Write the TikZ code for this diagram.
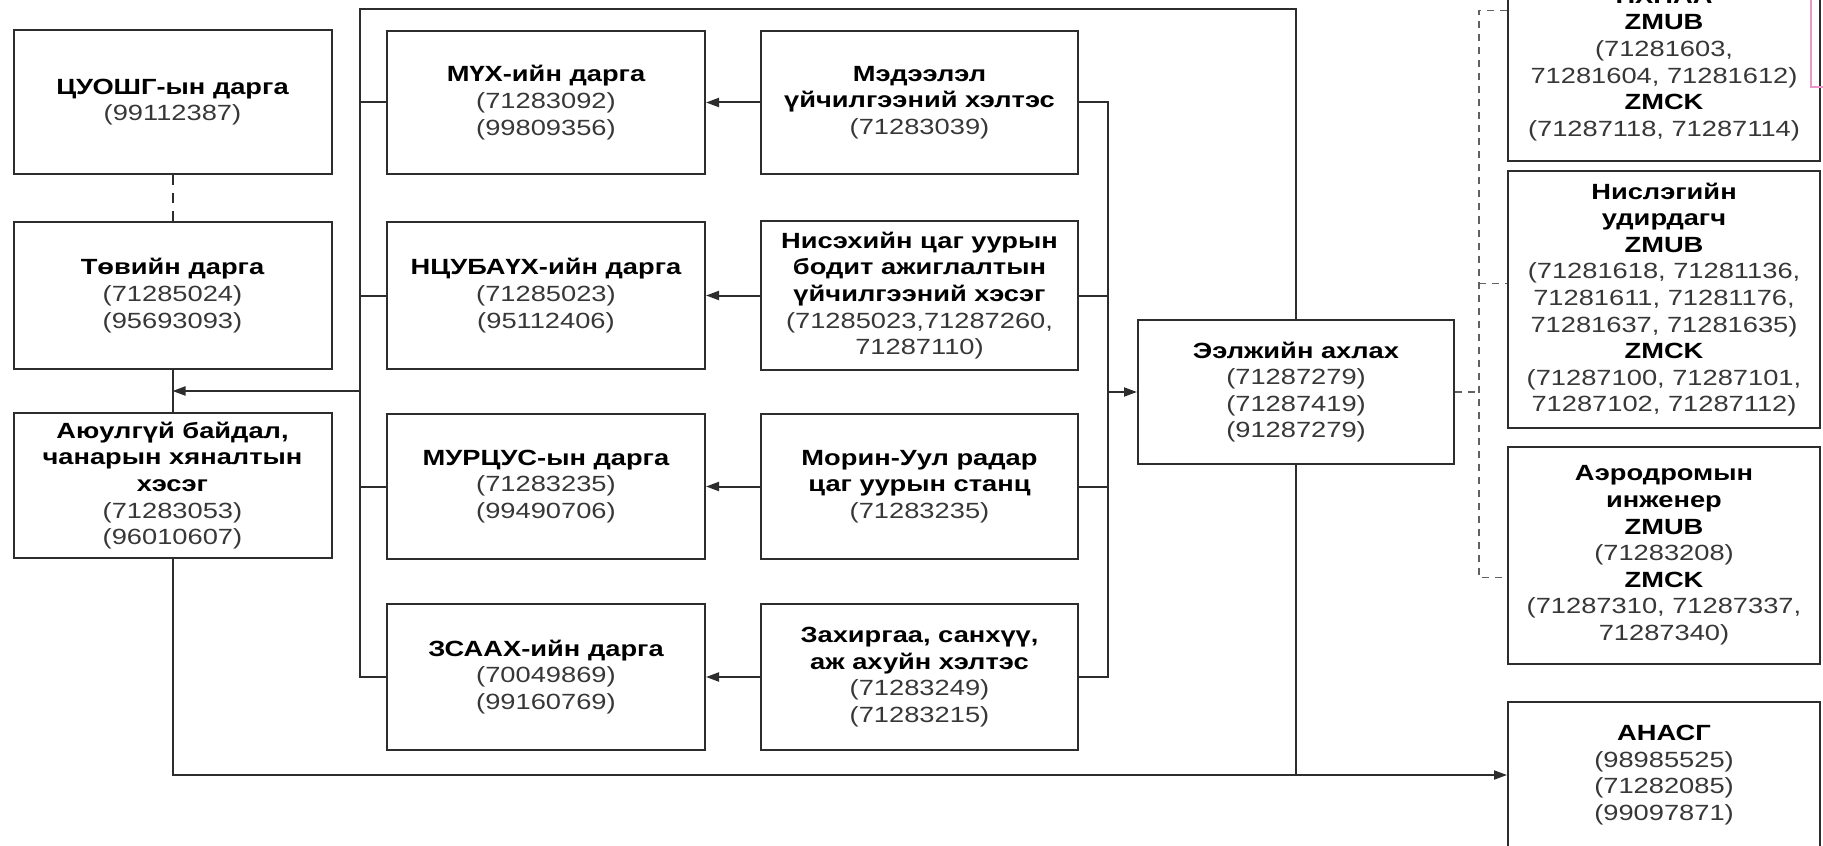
\documentclass[tikz,border=0pt]{standalone}
\usepackage{fontspec}
\setmainfont{Liberation Sans}[FakeStretch=1.24]
\usetikzlibrary{arrows.meta,calc}
\definecolor{ink}{RGB}{45,45,45}
\definecolor{numc}{RGB}{55,55,55}
\definecolor{pinkmark}{RGB}{235,150,200}
\newcommand{\hd}[1]{\textbf{\color{black}#1}}
\begin{document}
\begin{tikzpicture}[x=0.5pt,y=-0.5pt,
  box/.style={draw=ink,line width=1pt,inner sep=0pt,align=center,text=numc,
    font=\fontsize{11}{13.3}\selectfont},
  ln/.style={draw=ink,line width=1pt},
  arr/.style={ln,-{Triangle[length=6.5pt,width=4.5pt]}},
  dshL/.style={ln,dash pattern=on 5pt off 4pt},
  dshR/.style={draw=ink!75,line width=0.8pt,dash pattern=on 3.5pt off 3pt}]
\useasboundingbox (0,0) rectangle (1823,845);
\clip (0,0) rectangle (1823,845);
% left column
\node[box,minimum width=159pt,minimum height=72pt] (cuosh) at (172.5,102) {\hd{ЦУОШГ-ын дарга}\\(99112387)};
\node[box,minimum width=159pt,minimum height=73.5pt] (tov) at (172.5,295.5) {\hd{Төвийн дарга}\\(71285024)\\(95693093)};
\node[box,minimum width=159pt,minimum height=72.5pt] (ayul) at (172.5,485.5) {\hd{Аюулгүй байдал,}\\\hd{чанарын хяналтын}\\\hd{хэсэг}\\(71283053)\\(96010607)};
% middle left
\node[box,minimum width=159pt,minimum height=71.5pt] (myx) at (546,102.5) {\hd{МҮХ-ийн дарга}\\(71283092)\\(99809356)};
\node[box,minimum width=159pt,minimum height=73.5pt] (ncub) at (546,295.5) {\hd{НЦУБАҮХ-ийн дарга}\\(71285023)\\(95112406)};
\node[box,minimum width=159pt,minimum height=72.5pt] (murts) at (546,486.5) {\hd{МУРЦУС-ын дарга}\\(71283235)\\(99490706)};
\node[box,minimum width=159pt,minimum height=73pt] (zsaah) at (546,677) {\hd{ЗСААХ-ийн дарга}\\(70049869)\\(99160769)};
% middle right
\node[box,minimum width=158.5pt,minimum height=71.5pt] (med) at (919.5,102.5) {\hd{Мэдээлэл}\\\hd{үйчилгээний хэлтэс}\\(71283039)};
\node[box,minimum width=158.5pt,minimum height=74pt] (nis) at (919.5,295.5) {\hd{Нисэхийн цаг уурын}\\\hd{бодит ажиглалтын}\\\hd{үйчилгээний хэсэг}\\(71285023,71287260,\\71287110)};
\node[box,minimum width=158.5pt,minimum height=72.5pt] (morin) at (919.5,486.5) {\hd{Морин-Уул радар}\\\hd{цаг уурын станц}\\(71283235)};
\node[box,minimum width=158.5pt,minimum height=73pt] (zah) at (919.5,677) {\hd{Захиргаа, санхүү,}\\\hd{аж ахуйн хэлтэс}\\(71283249)\\(71283215)};
% shift head
\node[box,minimum width=158pt,minimum height=72pt] (ezl) at (1296,392) {\hd{Ээлжийн ахлах}\\(71287279)\\(71287419)\\(91287279)};
% right column
\node[box,minimum width=156pt,minimum height=96.5pt] (hnaa) at (1664,64.5) {\hd{НХНАА}\\\hd{ZMUB}\\(71281603,\\71281604, 71281612)\\\hd{ZMCK}\\(71287118, 71287114)};
\node[box,minimum width=156pt,minimum height=128.5pt] (nisl) at (1664,299.5) {\hd{Нислэгийн}\\\hd{удирдагч}\\\hd{ZMUB}\\(71281618, 71281136,\\71281611, 71281176,\\71281637, 71281635)\\\hd{ZMCK}\\(71287100, 71287101,\\71287102, 71287112)};
\node[box,minimum width=156pt,minimum height=108.5pt] (aero) at (1664,555.5) {\hd{Аэродромын}\\\hd{инженер}\\\hd{ZMUB}\\(71283208)\\\hd{ZMCK}\\(71287310, 71287337,\\71287340)};
\node[box,minimum width=156pt,minimum height=73pt] (anasg) at (1664,775) {\hd{АНАСГ}\\(98985525)\\(71282085)\\(99097871)};
% coordinates
\coordinate (busTL) at (360,9);
\coordinate (busR) at (1108,0);
\coordinate (dv) at (1479,10);
% left bus and top line
\draw[ln] (ezl.north) |- (busTL) |- (zsaah.west);
\draw[ln] (myx.west) -- (myx.west -| busTL);
\draw[ln] (ncub.west) -- (ncub.west -| busTL);
\draw[ln] (murts.west) -- (murts.west -| busTL);
% left column links
\draw[dshL] (cuosh.south) -- (tov.north);
\draw[ln] (tov.south) -- (ayul.north);
\coordinate (tj) at ($(tov.south)!0.5!(ayul.north)$);
\draw[arr] (tj -| busTL) -- (tj);
% bottom line
\draw[arr] (ayul.south) |- (anasg.west);
\draw[ln] (ezl.south) -- (ezl.south |- anasg.west);
% right bus of the middle
\draw[ln] (med.east) -| (zah.east -| busR) -- (zah.east);
\draw[ln] (nis.east) -- (nis.east -| busR);
\draw[ln] (morin.east) -- (morin.east -| busR);
\draw[arr] (ezl.west -| busR) -- (ezl.west);
% row arrows
\draw[arr] (med.west) -- (myx.east);
\draw[arr] (nis.west) -- (ncub.east);
\draw[arr] (morin.west) -- (murts.east);
\draw[arr] (zah.west) -- (zsaah.east);
% dashed links on the right
\coordinate (t1) at ([yshift=27pt]hnaa.west);
\coordinate (t2) at ([yshift=8pt]nisl.west);
\coordinate (t3) at ([yshift=-11pt]aero.west);
\draw[dshR] (t1) -- (t1 -| dv) -- (t3 -| dv) -- (t3);
\draw[dshR] (t2 -| dv) -- (t2);
\draw[dshR] (ezl.east) -- (ezl.east -| dv);
% pink mark
\draw[pinkmark,line width=0.8pt] (1811,0) -- (1811,87) -- (1823,87);
\end{tikzpicture}
\end{document}
